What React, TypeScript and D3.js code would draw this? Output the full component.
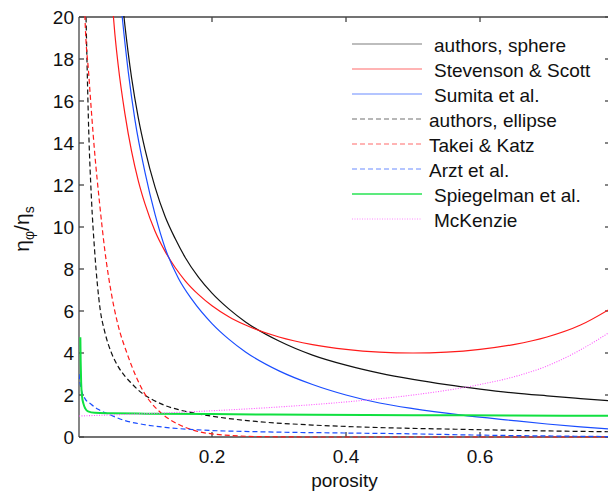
import React from "react";
import * as d3 from "d3";

// ---- data ----
const sphereP = [0.06, 0.065, 0.07, 0.08, 0.09, 0.1, 0.115, 0.13, 0.145, 0.16, 0.18, 0.2, 0.225, 0.25, 0.3, 0.35, 0.4, 0.45, 0.5, 0.55, 0.6, 0.65, 0.7, 0.75, 0.794];
const sphereV = [22.8, 21.1, 19.6, 17.1, 15.2, 13.7, 11.9, 10.5, 9.45, 8.55, 7.6, 6.85, 6.1, 5.48, 4.57, 3.9, 3.42, 3.04, 2.74, 2.49, 2.28, 2.1, 1.96, 1.83, 1.72];

const stevP = [0.045, 0.05, 0.055, 0.06, 0.07, 0.08, 0.09, 0.1, 0.115, 0.13, 0.145, 0.16, 0.18, 0.2, 0.225, 0.25, 0.3, 0.35, 0.4, 0.45, 0.5, 0.55, 0.6, 0.65, 0.7, 0.75, 0.794];
const stevV = [23.3, 21.1, 19.2, 17.7, 15.4, 13.6, 12.2, 11.1, 9.8, 8.84, 8.07, 7.44, 6.78, 6.25, 5.73, 5.33, 4.76, 4.4, 4.17, 4.04, 4.0, 4.04, 4.17, 4.4, 4.76, 5.33, 6.1];

const sumitaP = [0.055, 0.06, 0.066, 0.075, 0.085, 0.1, 0.115, 0.13, 0.15, 0.17, 0.2, 0.225, 0.25, 0.3, 0.35, 0.4, 0.45, 0.5, 0.57, 0.65, 0.7, 0.75, 0.794];
const sumitaV = [24.5, 22, 20, 17.4, 15.1, 12.6, 10.6, 9.0, 7.55, 6.55, 5.4, 4.66, 4.05, 3.15, 2.5, 2.0, 1.62, 1.35, 1.05, 0.78, 0.62, 0.48, 0.38];

const ellipseP = [0.011, 0.012, 0.0135, 0.016, 0.02, 0.025, 0.033, 0.04, 0.05, 0.06, 0.07, 0.08, 0.093, 0.11, 0.13, 0.15, 0.18, 0.22, 0.27, 0.35, 0.45, 0.58, 0.7, 0.794];
const ellipseV = [21.5, 20, 17.8, 14.6, 11.4, 8.8, 6.1, 5.0, 4.0, 3.35, 2.9, 2.55, 2.15, 1.8, 1.5, 1.3, 1.1, 0.9, 0.73, 0.57, 0.45, 0.36, 0.29, 0.25];

const takeiP = [0.009, 0.0104, 0.016, 0.025, 0.032, 0.04, 0.05, 0.06, 0.073, 0.085, 0.097, 0.11, 0.122, 0.137, 0.152, 0.167, 0.182, 0.2, 0.23, 0.27, 0.35, 0.5, 0.794];
const takeiV = [22, 20, 17.3, 13.5, 11.2, 8.9, 6.8, 5.3, 4.0, 3.0, 2.2, 1.6, 1.2, 0.83, 0.57, 0.38, 0.24, 0.15, 0.07, 0.02, 0, 0, 0];

const arztP = [0.0015, 0.003, 0.005, 0.01, 0.02, 0.03, 0.045, 0.07, 0.09, 0.13, 0.18, 0.27, 0.4, 0.5, 0.58, 0.7, 0.794];
const arztV = [3.0, 2.6, 2.25, 1.85, 1.55, 1.32, 1.1, 0.78, 0.64, 0.46, 0.34, 0.25, 0.19, 0.15, 0.1, 0.05, 0.02];

const spiegP = [0.0035, 0.004, 0.0047, 0.006, 0.008, 0.011, 0.015, 0.025, 0.05, 0.1, 0.2, 0.35, 0.5, 0.65, 0.794];
const spiegV = [4.75, 3.6, 2.6, 1.95, 1.6, 1.35, 1.22, 1.15, 1.13, 1.11, 1.09, 1.06, 1.04, 1.02, 1.01];

const mckP = [0.0015, 0.1, 0.2, 0.3, 0.4, 0.5, 0.6, 0.65, 0.7, 0.75, 0.794];
const mckV = [1.0, 1.11, 1.25, 1.43, 1.67, 2.0, 2.5, 2.86, 3.38, 4.15, 5.0];

const seriesNames = ["authors, sphere", "Stevenson & Scott", "Sumita et al.", "authors, ellipse", "Takei & Katz", "Arzt et al.", "Spiegelman et al.", "McKenzie"];
const yTicks = [0, 2, 4, 6, 8, 10, 12, 14, 16, 18, 20];
const xTicks = [0.2, 0.4, 0.6];

const W = 608, H = 495;
const L = 79, R = 610, T = 17, B = 437;
const FONT = "'Liberation Sans', Arial, Helvetica, sans-serif";

type Style = { color: string; dash?: string; width: number; legendOpacity: number; textDx: number };
const styles: Style[] = [
  { color: "#111", width: 1.2, legendOpacity: 0.55, textDx: 434 },
  { color: "#ff1a1a", width: 1.2, legendOpacity: 0.65, textDx: 434 },
  { color: "#1a4dff", width: 1.2, legendOpacity: 0.65, textDx: 434 },
  { color: "#111", dash: "5,3", width: 1.2, legendOpacity: 0.6, textDx: 429 },
  { color: "#ff1a1a", dash: "5,3", width: 1.2, legendOpacity: 0.65, textDx: 429 },
  { color: "#1a4dff", dash: "5,3", width: 1.2, legendOpacity: 0.65, textDx: 429 },
  { color: "#10e040", width: 2, legendOpacity: 0.9, textDx: 434 },
  { color: "#ff55ff", dash: "1,1.5", width: 1.1, legendOpacity: 0.7, textDx: 434 },
];

export default function App() {
  const x = d3.scaleLinear().domain([0.0015, 0.794]).range([L, R]);
  const y = d3.scaleLinear().domain([0, 20]).range([B, T]);
  const line = d3
    .line<[number, number]>()
    .x((d) => x(d[0]))
    .y((d) => y(d[1]))
    .curve(d3.curveMonotoneX);
  const zip = (p: number[], v: number[]) => p.map((pp, i) => [pp, v[i]] as [number, number]);
  const data = [
    zip(sphereP, sphereV),
    zip(stevP, stevV),
    zip(sumitaP, sumitaV),
    zip(ellipseP, ellipseV),
    zip(takeiP, takeiV),
    zip(arztP, arztV),
    zip(spiegP, spiegV),
    zip(mckP, mckV),
  ];
  const axisColor = "#444";
  const legendY0 = 44;
  const legendStep = 25;
  return (
    <svg width={W} height={H} style={{ position: "absolute", left: 0, top: 0, background: "#fff" }} fontFamily={FONT}>
      <defs>
        <clipPath id="plotclip">
          <rect x={L} y={T - 1} width={R - L} height={B - T + 2} />
        </clipPath>
      </defs>
      <rect x={0} y={0} width={W} height={H} fill="#fff" />
      {/* axes box */}
      <g stroke={axisColor} strokeWidth={1.3} fill="none">
        <line x1={L} y1={T} x2={R} y2={T} />
        <line x1={L} y1={B} x2={R} y2={B} />
        <line x1={L} y1={T} x2={L} y2={B} />
        <line x1={R} y1={T} x2={R} y2={B} />
        {yTicks.map((t) => (
          <g key={"yt" + t}>
            <line x1={L} x2={L + 5} y1={y(t)} y2={y(t)} />
            <line x1={R} x2={R - 5} y1={y(t)} y2={y(t)} />
          </g>
        ))}
        {xTicks.map((t) => (
          <g key={"xt" + t}>
            <line x1={x(t)} x2={x(t)} y1={B} y2={B - 5} />
            <line x1={x(t)} x2={x(t)} y1={T} y2={T + 5} />
          </g>
        ))}
      </g>
      {/* tick labels */}
      <g fontSize={19} fill="#111">
        {yTicks.map((t) => (
          <text key={"yl" + t} x={74} y={y(t)} dy="0.36em" textAnchor="end">
            {t}
          </text>
        ))}
        {xTicks.map((t) => (
          <text key={"xl" + t} x={x(t)} y={463} textAnchor="middle">
            {t.toFixed(1)}
          </text>
        ))}
        <text x={(L + R) / 2} y={487} textAnchor="middle">
          porosity
        </text>
        <text transform="rotate(-90)" x={-229} y={29} textAnchor="middle" fontSize={21}>
          η<tspan dy={5} fontSize={14}>φ</tspan>
          <tspan dy={-5}>/η</tspan>
          <tspan dy={5} fontSize={14}>s</tspan>
        </text>
      </g>
      {/* curves */}
      <g clipPath="url(#plotclip)" fill="none">
        {data.map((d, i) => (
          <path
            key={"c" + i}
            d={line(d) || ""}
            stroke={styles[i].color}
            strokeWidth={styles[i].width}
            strokeDasharray={styles[i].dash}
          />
        ))}
      </g>
      {/* legend */}
      <g>
        {seriesNames.map((name, i) => {
          const ly = legendY0 + i * legendStep;
          const s = styles[i];
          return (
            <g key={"lg" + i}>
              <line
                x1={352}
                x2={422}
                y1={ly}
                y2={ly}
                stroke={s.color}
                strokeWidth={i === 6 ? 1.5 : 1.2}
                strokeOpacity={s.legendOpacity}
                strokeDasharray={s.dash}
              />
              <text x={s.textDx} y={ly + 8} fontSize={19} fill="#111">
                {name}
              </text>
            </g>
          );
        })}
      </g>
    </svg>
  );
}
